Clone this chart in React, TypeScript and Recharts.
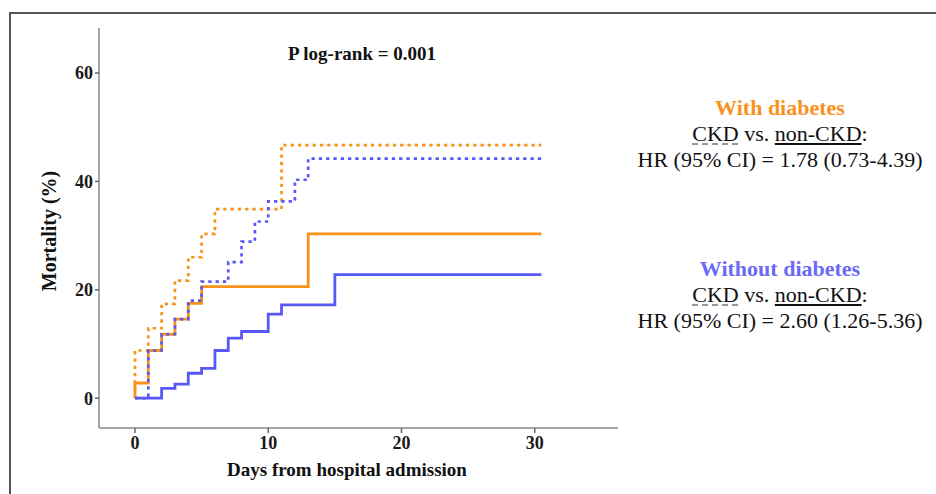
import React from 'react';
import { LineChart, Line, XAxis, YAxis } from 'recharts';

// Days from hospital admission (step change points) and cumulative mortality (%)
const withDiabetesCKD = [
  { x: 0, y: 0 }, { x: 0, y: 8.8 }, { x: 1, y: 12.9 }, { x: 2, y: 17.4 }, { x: 3, y: 21.7 },
  { x: 4, y: 26.0 }, { x: 5, y: 30.3 }, { x: 6, y: 34.9 }, { x: 11, y: 46.7 },
  { x: 30.5, y: 46.7 },
];
const withDiabetesNonCKD = [
  { x: 0, y: 0 }, { x: 0, y: 2.8 }, { x: 1, y: 8.8 }, { x: 2, y: 11.8 }, { x: 3, y: 14.6 },
  { x: 4, y: 17.5 }, { x: 5, y: 20.6 }, { x: 13, y: 30.3 }, { x: 30.5, y: 30.3 },
];
const withoutDiabetesCKD = [
  { x: 0, y: 0 }, { x: 1, y: 8.8 }, { x: 2, y: 11.8 }, { x: 3, y: 14.6 },
  { x: 4, y: 18.0 }, { x: 5, y: 21.5 }, { x: 7, y: 25.1 }, { x: 8, y: 28.9 },
  { x: 9, y: 32.6 }, { x: 10, y: 36.3 }, { x: 12, y: 40.3 }, { x: 13, y: 44.2 },
  { x: 30.5, y: 44.2 },
];
const withoutDiabetesNonCKD = [
  { x: 0, y: 0 }, { x: 2, y: 1.8 }, { x: 3, y: 2.6 }, { x: 4, y: 4.6 },
  { x: 5, y: 5.5 }, { x: 6, y: 8.8 }, { x: 7, y: 11.1 }, { x: 8, y: 12.3 },
  { x: 10, y: 15.5 }, { x: 11, y: 17.2 }, { x: 15, y: 22.8 }, { x: 30.5, y: 22.8 },
];

const xTicks = [0, 10, 20, 30];
const yTicks = [0, 20, 40, 60];

const ORANGE = '#F8921A';
const BLUE = '#5858F6';
const BLUE_TEXT = '#6A6AF5';
const SERIF = '"Liberation Serif", "Times New Roman", serif';

const tickStyle = { fontFamily: SERIF, fontWeight: 'bold', fontSize: 18, fill: '#1a1a1a' };

export default function App() {
  return (
    <div style={{ position: 'absolute', left: 0, top: 0, width: 936, height: 494, overflow: 'hidden', background: '#fff' }}>
      <div style={{ position: 'absolute', left: 9, top: 12, width: 1000, height: 600, border: '2px solid #555', boxSizing: 'border-box' }} />
      <div style={{ position: 'absolute', left: 0, top: 0 }}>
        <LineChart width={936} height={494} margin={{ top: 28, right: 318, bottom: 0, left: 0 }}>
          <XAxis
            dataKey="x"
            type="number"
            domain={[-2.7, 36.25]}
            allowDataOverflow
            ticks={xTicks}
            height={66}
            tickSize={5}
            tickMargin={3}
            axisLine={{ stroke: '#8a8a8a', strokeWidth: 1.5 }}
            tickLine={{ stroke: '#666', strokeWidth: 1.5 }}
            tick={tickStyle}
          />
          <YAxis
            dataKey="y"
            type="number"
            domain={[-5.5, 68.3]}
            allowDataOverflow
            ticks={yTicks}
            width={99}
            tickSize={4}
            tickMargin={2}
            axisLine={{ stroke: '#8a8a8a', strokeWidth: 1.5 }}
            tickLine={{ stroke: '#666', strokeWidth: 1.5 }}
            tick={tickStyle}
          />
          <Line data={withDiabetesNonCKD} dataKey="y" type="stepAfter" stroke={ORANGE} strokeWidth={2.8} dot={false} activeDot={false} isAnimationActive={false} />
          <Line data={withoutDiabetesNonCKD} dataKey="y" type="stepAfter" stroke={BLUE} strokeWidth={2.8} dot={false} activeDot={false} isAnimationActive={false} />
          <Line data={withDiabetesCKD} dataKey="y" type="stepAfter" stroke={ORANGE} strokeWidth={2.7} strokeDasharray="3.3 4" dot={false} activeDot={false} isAnimationActive={false} />
          <Line data={withoutDiabetesCKD} dataKey="y" type="stepAfter" stroke={BLUE} strokeWidth={2.7} strokeDasharray="3.3 4" dot={false} activeDot={false} isAnimationActive={false} />
        </LineChart>
      </div>
      <svg width={936} height={494} style={{ position: 'absolute', left: 0, top: 0, pointerEvents: 'none' }}>
        <text x={362} y={60} textAnchor="middle" fontFamily={SERIF} fontWeight="bold" fontSize={19} fill="#111">P log-rank = 0.001</text>
        <text x={347} y={476} textAnchor="middle" fontFamily={SERIF} fontWeight="bold" fontSize={19} fill="#111">Days from hospital admission</text>
        <text transform="translate(56,231) rotate(-90)" textAnchor="middle" fontFamily={SERIF} fontWeight="bold" fontSize={20} fill="#111">Mortality (%)</text>
      </svg>
      <div style={{ position: 'absolute', left: 620, top: 95, width: 320, textAlign: 'center', fontFamily: SERIF, fontSize: 22, lineHeight: '26px', color: '#111' }}>
        <div style={{ color: ORANGE, fontWeight: 'bold' }}>With diabetes</div>
        <div>
          <span style={{ textDecoration: 'underline dashed #999' }}>CKD</span> vs. <span style={{ textDecoration: 'underline' }}>non-CKD</span>:
        </div>
        <div>HR (95% CI) = 1.78 (0.73-4.39)</div>
      </div>
      <div style={{ position: 'absolute', left: 620, top: 256, width: 320, textAlign: 'center', fontFamily: SERIF, fontSize: 22, lineHeight: '26px', color: '#111' }}>
        <div style={{ color: BLUE_TEXT, fontWeight: 'bold' }}>Without diabetes</div>
        <div>
          <span style={{ textDecoration: 'underline dashed #999' }}>CKD</span> vs. <span style={{ textDecoration: 'underline' }}>non-CKD</span>:
        </div>
        <div>HR (95% CI) = 2.60 (1.26-5.36)</div>
      </div>
    </div>
  );
}
